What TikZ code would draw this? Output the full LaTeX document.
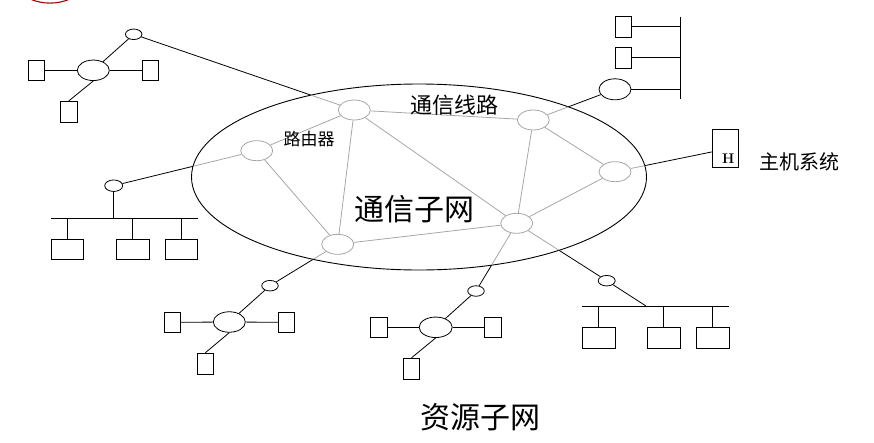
\documentclass[tikz,border=0pt]{standalone}
\usepackage{fontspec}
\newfontfamily\cjk{Noto Sans CJK SC}
\usetikzlibrary{shapes.geometric}
\begin{document}
\begin{tikzpicture}[x=1pt,y=-1pt,
  link/.style={line width=0.8pt, black},
  glink/.style={line width=0.8pt, gray!70},
  router/.style={ellipse, draw=gray!70, line width=0.8pt, minimum width=32pt, minimum height=20pt, inner sep=0pt},
  hub/.style={ellipse, draw, line width=0.8pt, minimum width=32pt, minimum height=20.5pt, inner sep=0pt},
  tap/.style={ellipse, draw, line width=0.8pt, minimum width=16.5pt, minimum height=10.5pt, inner sep=0pt},
  term/.style={rectangle, draw, line width=0.8pt, minimum width=16pt, minimum height=20.5pt, inner sep=0pt},
  station/.style={rectangle, draw, line width=0.8pt, minimum width=32pt, minimum height=20pt, inner sep=0pt},
  label/.style={inner sep=0pt, font=\cjk}
]
\useasboundingbox (0,0) rectangle (874,442);

% logo edge at the top left
\begin{scope}
  \clip (0,0) rectangle (120,12);
  \draw[red!65!black, line width=1.1pt] (50,-47.6) circle[radius=50.7];
\end{scope}

% communication subnet boundary
\draw[line width=0.9pt] (419,177) ellipse [x radius=227.5, y radius=93];

% routers
\node[router] (r1) at (354.3,110) {};
\node[router] (r2) at (256.7,150.7) {};
\node[router] (r3) at (533.3,120) {};
\node[router] (r4) at (615,171.7) {};
\node[router] (r5) at (516.7,223.3) {};
\node[router] (r6) at (337.7,244.3) {};

% links between routers
\draw[glink] (r1) -- (r2);
\draw[glink] (r1) -- (r3);
\draw[glink] (r1) -- (r6);
\draw[glink] (r1) -- (r5);
\draw[glink] (r2) -- (r6);
\draw[glink] (r6) -- (r5);
\draw[glink] (r3) -- (r5);
\draw[glink] (r3) -- (r4);
\draw[glink] (r4) -- (r5);

% top-left star group
\node[tap] (tltap) at (133.7,34.3) {};
\node[hub] (tlhub) at (93.3,70.3) {};
\node[term] (tlb1) at (36.7,70.3) {};
\node[term] (tlb2) at (150.3,70.3) {};
\node[term, minimum width=17pt, minimum height=21pt] (tlb3) at (68.8,111.8) {};
\draw[link] (tltap) -- (tlhub);
\draw[link] (tlhub) -- (tlb1);
\draw[link] (tlhub) -- (tlb2);
\draw[link] (tlhub.south) -- (tlb3.north);

% left bus group
\node[tap, minimum width=18pt, minimum height=11.5pt] (lbtap) at (113.7,185.7) {};
\coordinate (lbusA) at (51,218.3);
\coordinate (lbusB) at (197.7,218.3);
\draw[link] (lbusA) -- (lbusB);
\draw[link] (lbtap.south) -- (lbtap.south |- lbusA);
\node[station] (lb1) at (67.3,249.3) {};
\node[station, minimum width=33pt] (lb2) at (132.8,249.3) {};
\node[station] (lb3) at (181.5,249.3) {};
\foreach \b in {lb1,lb2,lb3} \draw[link] (\b.north) -- (\b.north |- lbusA);

% top-right bus group
\node[hub, minimum height=21pt] (trhub) at (615,89.3) {};
\node[term, minimum height=21pt] (trb1) at (623.3,26.7) {};
\node[term, minimum height=21pt] (trb2) at (623.3,57.8) {};
\coordinate (trbusA) at (680.3,16.7);
\coordinate (trbusB) at (680.3,99.3);
\draw[link] (trbusA) -- (trbusB);
\draw[link] (trb1.east) -- (trb1.east -| trbusA);
\draw[link] (trb2.east) -- (trb2.east -| trbusA);
\draw[link] (trhub.east) -- (trhub.east -| trbusA);

% host system
\node[rectangle, draw, line width=0.8pt, minimum width=26pt, minimum height=37.7pt, inner sep=0pt] (hbox) at (725.3,148.2) {};
\node[inner sep=0pt, font=\fontsize{14}{14}\selectfont\bfseries] (hlabel) at (728.3,158.6) {H};

% bottom-left star group
\node[tap] (bltap) at (270,285.7) {};
\node[hub] (blhub) at (229.3,322) {};
\node[term] (blb1) at (172.3,322.3) {};
\node[term] (blb2) at (286.3,322.3) {};
\node[term, minimum height=21pt] (blb3) at (205.3,363.7) {};
\draw[link] (bltap) -- (blhub);
\draw[link] (blhub) -- (blb1);
\draw[link] (blhub) -- (blb2);
\draw[link] (blhub.south) -- (blb3.north);

% bottom-middle star group
\node[tap] (bmtap) at (476,291) {};
\node[hub, minimum width=33pt] (bmhub) at (435.7,327.3) {};
\node[term, minimum width=17pt] (bmb1) at (378.8,327.3) {};
\node[term, minimum width=17pt] (bmb2) at (492.7,327.3) {};
\node[term, minimum height=21pt] (bmb3) at (411.5,368.7) {};
\draw[link] (bmtap) -- (bmhub);
\draw[link] (bmhub) -- (bmb1);
\draw[link] (bmhub) -- (bmb2);
\draw[link] (bmhub.south) -- (bmb3.north);

% bottom-right bus group
\node[tap, minimum width=17pt] (brtap) at (606.7,280.7) {};
\coordinate (brbusA) at (582,306);
\coordinate (brbusB) at (729,306);
\coordinate (brjoin) at (646,306);
\draw[link] (brbusA) -- (brbusB);
\draw[link] (brtap) -- (brjoin);
\node[station, minimum width=33pt, minimum height=21pt] (brb1) at (598.8,337.8) {};
\node[station, minimum width=33pt, minimum height=21pt] (brb2) at (663.8,337.8) {};
\node[station, minimum width=33pt, minimum height=21pt] (brb3) at (712.8,337.8) {};
\foreach \b in {brb1,brb2,brb3} \draw[link] (\b.north) -- (\b.north |- brbusA);

% access links: grey inside the subnet, black outside
\begin{scope}
  \clip (419,177) ellipse [x radius=227.5, y radius=93];
  \draw[glink] (tltap) -- (r1);
  \draw[glink] (lbtap) -- (r2);
  \draw[glink] (trhub) -- (r3);
  \draw[glink] (r4) -- ([yshift=-3.7pt]hbox.west);
  \draw[glink] (r6) -- (bltap);
  \draw[glink] (r5) -- (bmtap);
  \draw[glink] (r5) -- (brtap);
\end{scope}
\begin{scope}[even odd rule]
  \clip (0,0) rectangle (874,442) (419,177) ellipse [x radius=227.5, y radius=93];
  \draw[link] (tltap) -- (r1);
  \draw[link] (lbtap) -- (r2);
  \draw[link] (trhub) -- (r3);
  \draw[link] (r4) -- ([yshift=-3.7pt]hbox.west);
  \draw[link] (r6) -- (bltap);
  \draw[link] (r5) -- (bmtap);
  \draw[link] (r5) -- (brtap);
\end{scope}

% labels
\node[label, font=\cjk\fontsize{22}{22}\selectfont] (lineslbl) at (454,105) {通信线路};
\node[label, font=\cjk\fontsize{17}{17}\selectfont] (routerlbl) at (309,139.5) {路由器};
\node[label, font=\cjk\fontsize{30}{30}\selectfont] (subnetlbl) at (414,208.7) {通信子网};
\node[label, font=\cjk\fontsize{30}{30}\selectfont] (reslbl) at (480.5,417) {资源子网};
\node[label, font=\cjk\fontsize{20}{20}\selectfont] (hostlbl) at (799.3,162.3) {主机系统};
\end{tikzpicture}
\end{document}
